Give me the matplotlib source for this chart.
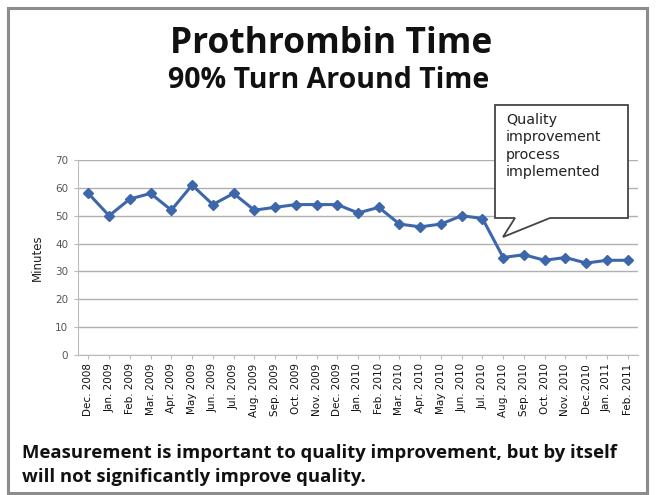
import matplotlib
matplotlib.use("Agg")
import matplotlib.pyplot as plt
from matplotlib.patches import Polygon, Rectangle

months = ["Dec. 2008", "Jan. 2009", "Feb. 2009", "Mar. 2009", "Apr. 2009", "May 2009",
          "Jun. 2009", "Jul. 2009", "Aug. 2009", "Sep. 2009", "Oct. 2009", "Nov. 2009",
          "Dec. 2009", "Jan. 2010", "Feb. 2010", "Mar. 2010", "Apr. 2010", "May 2010",
          "Jun. 2010", "Jul. 2010", "Aug. 2010", "Sep. 2010", "Oct. 2010", "Nov. 2010",
          "Dec.2010", "Jan. 2011", "Feb. 2011"]
minutes = [58, 50, 56, 58, 52, 61, 54, 58, 52, 53, 54, 54, 54, 51, 53, 47, 46, 47,
           50, 49, 35, 36, 34, 35, 33, 34, 34]
y_ticks = [0, 10, 20, 30, 40, 50, 60, 70]

W, H = 656, 495
fig = plt.figure(figsize=(W / 100, H / 100), dpi=100)
fig.patch.set_facecolor("white")

def fx(px):
    return px / W

def fy(py):
    return 1 - py / H

# outer frame
fig.patches.append(Rectangle((fx(8), fy(493)), fx(647) - fx(8), fy(8) - fy(493),
                             transform=fig.transFigure, fill=False,
                             edgecolor="#8c8c8c", linewidth=2.2))

ax = fig.add_axes([fx(78), fy(355), fx(638) - fx(78), fy(160) - fy(355)])
x = list(range(len(months)))
ax.plot(x, minutes, color="#3D67AA", linewidth=2.2, marker="D", markersize=5.5,
        markerfacecolor="#3D67AA", markeredgecolor="#3D67AA", zorder=3)
ax.set_xlim(-0.5, len(months) - 0.5)
ax.set_ylim(0, 70)
ax.set_yticks(y_ticks)
ax.set_yticklabels([str(v) for v in y_ticks], fontsize=7.5, color="#555555")
ax.set_xticks(x)
ax.set_xticklabels(months, rotation=90, fontsize=7.5, color="#111111")
ax.grid(axis="y", color="#b0b0b0", linewidth=1)
ax.set_axisbelow(True)
for s in ["top", "right"]:
    ax.spines[s].set_visible(False)
ax.spines["left"].set_color("#bbbbbb")
ax.spines["bottom"].set_color("#bbbbbb")
ax.tick_params(axis="y", length=3, color="#bbbbbb", pad=4)
ax.tick_params(axis="x", length=3, color="#bbbbbb", pad=3)
ax.set_ylabel("Minutes", fontsize=8.5, color="#222222", labelpad=8)

# titles
fig.text(fx(331), fy(44), "Prothrombin Time", ha="center", va="center",
         fontsize=25.5, fontweight="bold", family="Open Sans", color="#111111")
fig.text(fx(329), fy(80), "90% Turn Around Time", ha="center", va="center",
         fontsize=20.5, fontweight="bold", family="Open Sans", color="#111111")

# callout
callout = Polygon([(fx(495), fy(105)), (fx(628), fy(105)), (fx(628), fy(218)),
                   (fx(550), fy(218)), (fx(503), fy(237)), (fx(515), fy(218)),
                   (fx(495), fy(218))], closed=True, transform=fig.transFigure,
                  facecolor="white", edgecolor="#444444", linewidth=1.3, zorder=5)
fig.patches.append(callout)
fig.text(fx(506), fy(113), "Quality\nimprovement\nprocess\nimplemented", ha="left",
         va="top", fontsize=10.3, color="#222222", linespacing=1.3, zorder=6)

# footer
fig.text(fx(22), fy(453), "Measurement is important to quality improvement, but by itself",
         ha="left", va="center", fontsize=13.3, fontweight="bold", family="Open Sans",
         color="#111111")
fig.text(fx(22), fy(477), "will not significantly improve quality.",
         ha="left", va="center", fontsize=13.3, fontweight="bold", family="Open Sans",
         color="#111111")

fig.savefig("out.png", dpi=100)
